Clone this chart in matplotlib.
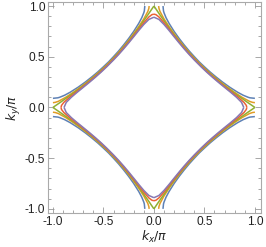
import numpy as np
import matplotlib
matplotlib.use("Agg")
import matplotlib.pyplot as plt
from matplotlib.ticker import MultipleLocator

# Fermi surface contours, one quadrant each (kx>=0, ky>=0)
# the other three quadrants are mirror images

purple_x = [0, 0.05, 0.1, 0.15, 0.2, 0.25, 0.3, 0.35, 0.4, 0.434, 0.468, 0.521, 0.577, 0.636, 0.697, 0.759, 0.818, 0.868, 0.890]
purple_y = [0.890, 0.868, 0.818, 0.759, 0.697, 0.636, 0.577, 0.521, 0.468, 0.434, 0.4, 0.35, 0.3, 0.25, 0.2, 0.15, 0.1, 0.05, 0]

red_x = [0, 0.02, 0.05, 0.1, 0.15, 0.2, 0.25, 0.3, 0.35, 0.4, 0.437, 0.475, 0.528, 0.585, 0.645, 0.707, 0.771, 0.835, 0.892, 0.915, 0.920]
red_y = [0.920, 0.915, 0.892, 0.835, 0.771, 0.707, 0.645, 0.585, 0.528, 0.475, 0.437, 0.4, 0.35, 0.3, 0.25, 0.2, 0.15, 0.1, 0.05, 0.02, 0]

green_x = [0, 0.02, 0.05, 0.1, 0.15, 0.2, 0.25, 0.3, 0.35, 0.4, 0.440, 0.482, 0.536, 0.593, 0.654, 0.718, 0.786, 0.856, 0.927, 0.971, 1.0]
green_y = [1.0, 0.971, 0.927, 0.856, 0.786, 0.718, 0.654, 0.593, 0.536, 0.482, 0.440, 0.4, 0.35, 0.3, 0.25, 0.2, 0.15, 0.1, 0.05, 0.02, 0]

orange_x = [0.047, 0.05, 0.06, 0.1, 0.15, 0.2, 0.25, 0.3, 0.35, 0.4, 0.443, 0.487, 0.542, 0.600, 0.661, 0.727, 0.797, 0.873, 0.947, 0.977, 1.0]
orange_y = [1.0, 0.977, 0.947, 0.873, 0.797, 0.727, 0.661, 0.600, 0.542, 0.487, 0.443, 0.4, 0.35, 0.3, 0.25, 0.2, 0.15, 0.1, 0.06, 0.05, 0.047]

blue_x = [0.090, 0.095, 0.1, 0.12, 0.15, 0.2, 0.25, 0.3, 0.35, 0.4, 0.449, 0.501, 0.556, 0.616, 0.680, 0.750, 0.829, 0.885, 0.934, 0.951, 1.0]
blue_y = [1.0, 0.951, 0.934, 0.885, 0.829, 0.750, 0.680, 0.616, 0.556, 0.501, 0.449, 0.4, 0.35, 0.3, 0.25, 0.2, 0.15, 0.12, 0.1, 0.095, 0.090]

curves = [(blue_x, blue_y, "#5E81B5"),
          (orange_x, orange_y, "#E19C24"),
          (green_x, green_y, "#8FB032"),
          (red_x, red_y, "#EB6235"),
          (purple_x, purple_y, "#8778B3")]

plt.rcParams['font.family'] = ['Liberation Sans', 'DejaVu Sans']
plt.rcParams['mathtext.fontset'] = 'dejavusans'

fig = plt.figure(figsize=(2.66, 2.47), dpi=100)
ax = fig.add_axes([0.180, 0.138, 0.801, 0.854])

for cx, cy, col in curves:
    cx = np.array(cx)
    cy = np.array(cy)
    for sx in (1, -1):
        for sy in (1, -1):
            ax.plot(sx*cx, sy*cy, color=col, lw=1.1, solid_capstyle='butt')

ax.set_xlim(-1.05, 1.06)
ax.set_ylim(-1.04, 1.04)

ax.xaxis.set_major_locator(MultipleLocator(0.5))
ax.yaxis.set_major_locator(MultipleLocator(0.5))
ax.xaxis.set_minor_locator(MultipleLocator(0.1))
ax.yaxis.set_minor_locator(MultipleLocator(0.1))
ax.tick_params(which='both', direction='in', top=True, right=True, color='#999999', width=0.6)
ax.tick_params(which='major', length=4, labelsize=8.6, labelcolor='#222222', pad=2)
ax.tick_params(which='minor', length=2)
ax.xaxis.set_major_formatter(matplotlib.ticker.FormatStrFormatter('%.1f'))
ax.yaxis.set_major_formatter(matplotlib.ticker.FormatStrFormatter('%.1f'))

for s in ax.spines.values():
    s.set_color('#AAAAAA')
    s.set_linewidth(0.8)

ax.set_xlabel(r'$k_x/\pi$', fontsize=9, color='#222222', labelpad=1)
ax.set_ylabel(r'$k_y/\pi$', fontsize=9, color='#222222', labelpad=1)

fig.savefig('out.png', dpi=100)
plt.close()
